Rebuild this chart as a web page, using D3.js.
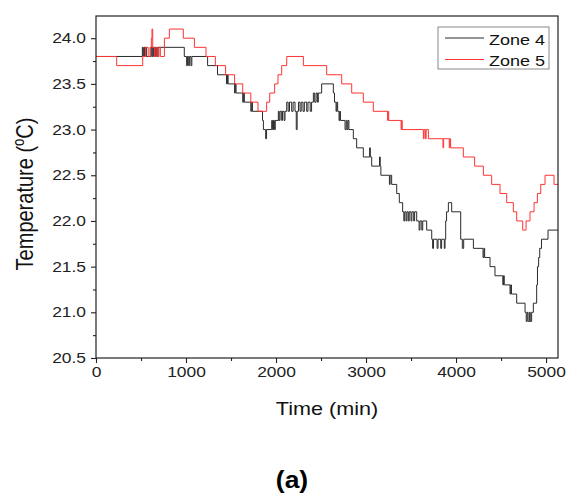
<!DOCTYPE html>
<html>
<head>
<meta charset="utf-8">
<script src="https://cdn.jsdelivr.net/npm/d3@7"></script>
<style>
  body { margin: 0; background: #fff; }
  text { font-family: "Liberation Sans", Arial, sans-serif; }
</style>
</head>
<body>
<div id="chart"></div>
<script>
// Temperature of zones 4 and 5 as [time (min), temp (°C)] change points
const zone4 = [
  [0, 23.8], [515, 23.9], [525, 23.8], [533, 23.9], [541, 23.8], [549, 23.9], [560, 23.8],
  [610, 23.9], [620, 23.8], [630, 23.9], [640, 23.8], [650, 23.9], [660, 23.8], [670, 23.9],
  [680, 23.8], [690, 23.9], [981, 23.8], [1007, 23.7], [1017, 23.8], [1030, 23.7], [1040, 23.8],
  [1055, 23.7], [1065, 23.8], [1240, 23.7], [1350, 23.6], [1450, 23.5], [1460, 23.6], [1468, 23.5],
  [1540, 23.4], [1548, 23.5], [1556, 23.4], [1630, 23.3], [1640, 23.4], [1648, 23.3], [1720, 23.2],
  [1730, 23.3], [1738, 23.2], [1850, 23.1], [1860, 23.0], [1885, 22.9], [1895, 23.0], [1952, 23.1],
  [1962, 23.0], [1972, 23.1], [1982, 23.0], [1992, 23.1], [2026, 23.2], [2035, 23.1], [2045, 23.2],
  [2063, 23.1], [2072, 23.2], [2090, 23.1], [2100, 23.2], [2119, 23.3], [2135, 23.2], [2150, 23.3],
  [2174, 23.2], [2190, 23.3], [2211, 23.2], [2225, 23.0], [2235, 23.2], [2250, 23.3], [2267, 23.2],
  [2280, 23.3], [2300, 23.2], [2315, 23.3], [2341, 23.2], [2355, 23.3], [2380, 23.2], [2395, 23.3],
  [2415, 23.4], [2430, 23.3], [2445, 23.4], [2460, 23.3], [2470, 23.4], [2507, 23.5], [2637, 23.4],
  [2650, 23.3], [2667, 23.2], [2675, 23.3], [2685, 23.2], [2700, 23.1], [2708, 23.2], [2716, 23.1],
  [2767, 23.0], [2780, 23.1], [2790, 23.0], [2800, 23.1], [2810, 23.0], [2859, 22.9], [2896, 22.8],
  [2970, 22.7], [3040, 22.8], [3048, 22.7], [3063, 22.6], [3150, 22.7], [3158, 22.6], [3165, 22.5],
  [3260, 22.4], [3268, 22.5], [3285, 22.4], [3341, 22.3], [3370, 22.2], [3407, 22.1], [3420, 22.0],
  [3430, 22.1], [3445, 22.0], [3455, 22.1], [3470, 22.0], [3480, 22.1], [3500, 22.0], [3510, 22.1],
  [3530, 22.0], [3540, 22.1], [3563, 22.0], [3590, 21.9], [3600, 22.0], [3620, 21.9], [3630, 22.0],
  [3674, 21.9], [3730, 21.8], [3740, 21.7], [3750, 21.8], [3790, 21.7], [3800, 21.8], [3830, 21.7],
  [3840, 21.8], [3870, 21.7], [3878, 21.8], [3885, 22.0], [3895, 22.1], [3915, 22.2], [3952, 22.1],
  [4052, 21.8], [4070, 21.7], [4085, 21.8], [4193, 21.7], [4300, 21.6], [4310, 21.7], [4318, 21.6],
  [4378, 21.5], [4433, 21.4], [4520, 21.3], [4528, 21.4], [4536, 21.3], [4600, 21.2], [4608, 21.3],
  [4616, 21.2], [4674, 21.1], [4767, 21.0], [4780, 20.9], [4790, 21.0], [4800, 20.9], [4815, 21.0],
  [4825, 20.9], [4840, 21.0], [4859, 21.1], [4896, 21.3], [4905, 21.5], [4918, 21.6], [4930, 21.7],
  [4950, 21.8], [5022, 21.9], [5133, 21.9]
];

const zone5 = [
  [0, 23.8], [230, 23.7], [519, 23.8], [550, 23.9], [580, 23.8], [600, 23.9], [615, 24.0],
  [622, 24.1], [630, 23.9], [650, 23.8], [665, 23.9], [680, 23.8], [700, 23.9], [715, 23.8],
  [760, 24.0], [815, 24.1], [970, 24.0], [1093, 23.9], [1222, 23.8], [1326, 23.7], [1440, 23.6],
  [1540, 23.5], [1630, 23.4], [1720, 23.3], [1800, 23.2], [1896, 23.3], [1930, 23.4], [1985, 23.5],
  [2022, 23.6], [2063, 23.7], [2119, 23.8], [2304, 23.7], [2563, 23.6], [2730, 23.5], [2841, 23.4],
  [2970, 23.3], [3081, 23.2], [3240, 23.1], [3246, 23.2], [3252, 23.1], [3390, 23.0], [3396, 23.1],
  [3402, 23.0], [3637, 22.9], [3645, 23.0], [3660, 22.9], [3668, 23.0], [3693, 22.9], [3855, 22.8],
  [3862, 22.9], [3925, 22.8], [3932, 22.9], [3940, 22.8], [4081, 22.7], [4207, 22.6], [4304, 22.5],
  [4396, 22.4], [4489, 22.3], [4563, 22.2], [4637, 22.1], [4674, 22.0], [4741, 21.9], [4778, 22.0],
  [4822, 22.1], [4867, 22.2], [4904, 22.3], [4941, 22.4], [4989, 22.5], [5089, 22.4], [5133, 22.4]
];

const seriesNames = ["Zone 4", "Zone 5"];
const seriesColors = ["#2b2b2b", "#ff3333"];
const xTicks = [0, 1000, 2000, 3000, 4000, 5000];
const xMinorTicks = [500, 1500, 2500, 3500, 4500];
const yTicks = [20.5, 21.0, 21.5, 22.0, 22.5, 23.0, 23.5, 24.0];
const yMinorTicks = [20.75, 21.25, 21.75, 22.25, 22.75, 23.25, 23.75];

const width = 566, height = 495;
const margin = { left: 96, right: 8, top: 16, bottom: 137 };
const plotW = width - margin.left - margin.right;
const plotH = height - margin.top - margin.bottom;
const stretch = 1.2; // text in the picture is a bit wide

const svg = d3.select("#chart").append("svg")
  .attr("width", width)
  .attr("height", height);

const x = d3.scaleLinear().domain([0, 5133]).range([0, plotW]);
const y = d3.scaleLinear().domain([20.5, 24.243]).range([plotH, 0]);

const g = svg.append("g").attr("transform", `translate(${margin.left},${margin.top})`);

g.append("clipPath").attr("id", "clip")
  .append("rect").attr("width", plotW).attr("height", plotH);

const line = d3.line()
  .x(d => x(d[0]))
  .y(d => y(d[1]))
  .curve(d3.curveStepAfter);

[zone4, zone5].forEach((data, i) => {
  g.append("path")
    .datum(data)
    .attr("clip-path", "url(#clip)")
    .attr("fill", "none")
    .attr("stroke", seriesColors[i])
    .attr("stroke-width", 1)
    .attr("d", line);
});

// frame
g.append("rect")
  .attr("width", plotW).attr("height", plotH)
  .attr("fill", "none").attr("stroke", "#222").attr("stroke-width", 1.2);

// axes
g.append("g").attr("transform", `translate(0,${plotH})`)
  .call(d3.axisBottom(x).tickValues(xTicks).tickFormat(d3.format("d")).tickSize(5).tickPadding(4));
g.append("g").attr("transform", `translate(0,${plotH})`)
  .call(d3.axisBottom(x).tickValues(xMinorTicks).tickFormat("").tickSize(3));

const yAxis = g.append("g")
  .call(d3.axisLeft(y).tickValues(yTicks).tickFormat(d3.format(".1f")).tickSize(5).tickPadding(5));
g.append("g")
  .call(d3.axisLeft(y).tickValues(yMinorTicks).tickFormat("").tickSize(3));

g.selectAll(".domain").remove();
g.selectAll(".tick line").attr("stroke", "#222").attr("stroke-width", 1.1);
g.selectAll(".tick text")
  .attr("font-size", 14.5)
  .attr("font-family", "Liberation Sans, Arial, sans-serif")
  .attr("fill", "#222")
  .attr("transform", `scale(${stretch},1)`);
yAxis.selectAll(".tick text").attr("x", -10 / stretch);

// axis titles
svg.append("text")
  .attr("transform", `translate(${margin.left + plotW / 2},415) scale(${stretch},1)`)
  .attr("text-anchor", "middle")
  .attr("font-size", 18)
  .attr("fill", "#111")
  .text("Time (min)");

const yLabel = svg.append("text")
  .attr("transform", `translate(33,194) scale(${stretch},1) rotate(-90)`)
  .attr("text-anchor", "middle")
  .attr("font-size", 20)
  .attr("fill", "#111");
yLabel.append("tspan").text("Temperature (");
yLabel.append("tspan").attr("font-size", 13).attr("baseline-shift", "super").text("o");
yLabel.append("tspan").text("C)");

// legend
const legend = svg.append("g").attr("transform", "translate(438,27)");
legend.append("rect")
  .attr("width", 111).attr("height", 42)
  .attr("fill", "#fff").attr("stroke", "#888").attr("stroke-width", 1);
seriesNames.forEach((name, i) => {
  const ly = 11 + i * 21.5;
  legend.append("line")
    .attr("x1", 7).attr("x2", 46).attr("y1", ly).attr("y2", ly)
    .attr("stroke", seriesColors[i]).attr("stroke-width", 1);
  legend.append("text")
    .attr("transform", `translate(51,${ly + 6.5}) scale(${stretch},1)`)
    .attr("font-size", 15)
    .attr("fill", "#111")
    .text(name);
});

// panel label
svg.append("text")
  .attr("transform", `translate(292,488) scale(1.15,1)`)
  .attr("text-anchor", "middle")
  .attr("font-family", "Liberation Serif, serif")
  .attr("font-weight", "bold")
  .attr("font-size", 23)
  .attr("fill", "#000")
  .text("(a)");
</script>
</body>
</html>
